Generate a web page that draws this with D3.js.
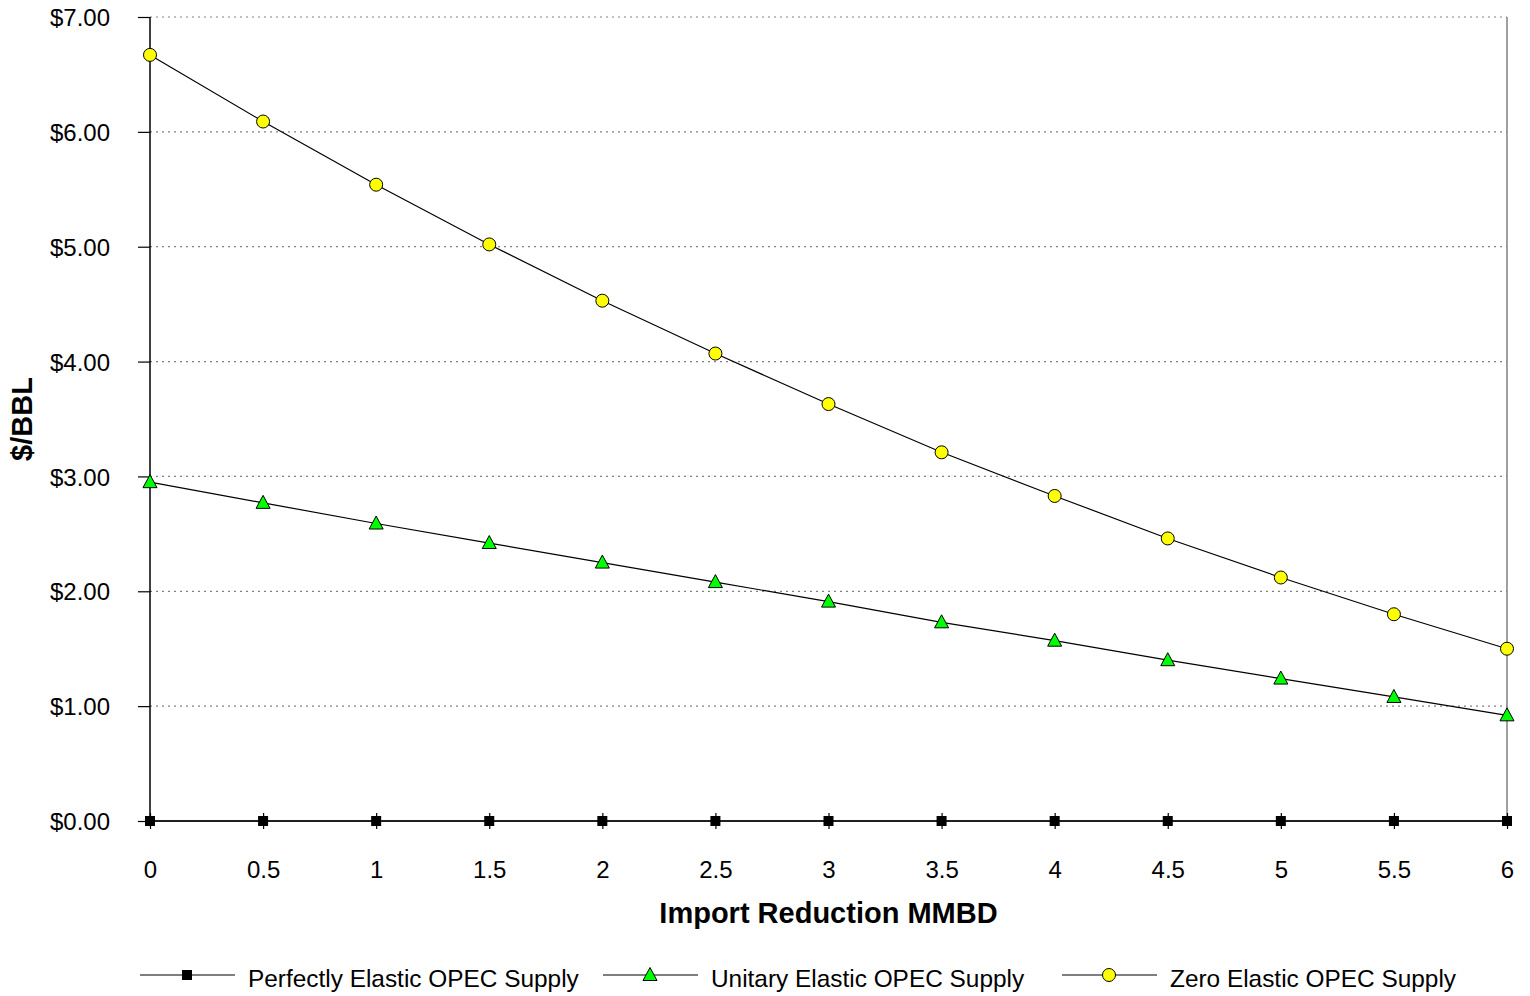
<!DOCTYPE html>
<html><head><meta charset="utf-8">
<script src="https://cdn.jsdelivr.net/npm/d3@7"></script>
<style>body{margin:0;background:#fff}svg{display:block;font-family:"Liberation Sans",Arial,sans-serif}</style>
</head><body>
<svg id="c" width="1530" height="996"></svg>
<script>
const xValues = [0,0.5,1,1.5,2,2.5,3,3.5,4,4.5,5,5.5,6];
const perfectlyElastic = [0,0,0,0,0,0,0,0,0,0,0,0,0];
const unitaryElastic = [2.95,2.77,2.59,2.42,2.25,2.08,1.91,1.73,1.57,1.40,1.24,1.08,0.92];
const zeroElastic = [6.67,6.09,5.54,5.02,4.53,4.07,3.63,3.21,2.83,2.46,2.12,1.80,1.50];
const yTicks = [0,1,2,3,4,5,6,7];
const seriesNames = ["Perfectly Elastic OPEC Supply","Unitary Elastic OPEC Supply","Zero Elastic OPEC Supply"];
const xTitle = "Import Reduction MMBD";
const yTitle = "$/BBL";

const FONT = "Liberation Sans, Arial, sans-serif";
const svg = d3.select("#c");
const L=150,R=1507,T=17,B=821;
const x = d3.scaleLinear().domain([0,6]).range([L,R]);
const y = d3.scaleLinear().domain([0,7]).range([B,T]);

// gridlines
svg.append("g").selectAll("line").data(yTicks.filter(d=>d>0)).join("line")
  .attr("x1",L).attr("x2",R).attr("y1",d=>y(d)).attr("y2",d=>y(d))
  .attr("stroke","#808080").attr("stroke-width",1.2).attr("stroke-dasharray","2,4");
// right border
svg.append("line").attr("x1",R).attr("x2",R).attr("y1",T).attr("y2",B).attr("stroke","#808080").attr("stroke-width",1.5);

// y axis
const ya = svg.append("g").attr("transform",`translate(${L},0)`)
  .call(d3.axisLeft(y).tickValues(yTicks).tickSize(12).tickFormat(d=>"$"+d.toFixed(2)));
ya.attr("font-size",null).attr("font-family",null);
ya.select(".domain").attr("stroke","#000").attr("stroke-width",1.5).attr("d",`M0,${T}V${B}`);
ya.selectAll(".tick line").attr("stroke","#000").attr("stroke-width",1.2);
ya.selectAll("text").attr("font-size",24).attr("fill","#000").attr("font-family",FONT)
  .attr("x",-40).attr("dy","0.36em");

// x axis
const xa = svg.append("g").attr("transform",`translate(0,${B})`)
  .call(d3.axisBottom(x).tickValues(xValues).tickSize(8).tickFormat(d=>String(d)));
xa.attr("font-size",null).attr("font-family",null);
xa.select(".domain").attr("stroke","#000").attr("stroke-width",1.5).attr("d",`M${L},0H${R}`);
xa.selectAll(".tick line").attr("stroke","#000").attr("stroke-width",1.2).attr("y1",-8).attr("y2",8);
xa.selectAll("text").attr("font-size",24).attr("fill","#000").attr("font-family",FONT)
  .attr("y",57).attr("dy",null);

// titles
svg.append("text").attr("x",(L+R)/2).attr("y",923).attr("text-anchor","middle")
  .attr("font-size",29).attr("font-weight","bold").text(xTitle);
svg.append("text").attr("transform","translate(32,419) rotate(-90)").attr("text-anchor","middle")
  .attr("font-size",29).attr("font-weight","bold").text(yTitle);

const line = d3.line().x((d,i)=>x(xValues[i])).y(d=>y(d));
const allSeries = [perfectlyElastic, unitaryElastic, zeroElastic];
allSeries.forEach(s=>{
  svg.append("path").datum(s).attr("d",line).attr("fill","none").attr("stroke","#000").attr("stroke-width",1.2);
});

function marker(g, type, cx, cy){
  if(type===0){
    g.append("rect").attr("x",cx-5).attr("y",cy-5).attr("width",10).attr("height",10).attr("fill","#000");
  } else if(type===1){
    g.append("path").attr("d",`M${cx},${cy-7.5}L${cx+7},${cy+5.5}L${cx-7},${cy+5.5}Z`).attr("fill","#00ff00").attr("stroke","#000").attr("stroke-width",1);
  } else {
    g.append("circle").attr("cx",cx).attr("cy",cy).attr("r",6.5).attr("fill","#ffff00").attr("stroke","#000").attr("stroke-width",1);
  }
}
const mg = svg.append("g");
allSeries.forEach((s,k)=>{
  s.forEach((v,i)=>marker(mg,k,x(xValues[i]),y(v)));
});

// legend
const legX = [140,603,1062];
const lg = svg.append("g");
seriesNames.forEach((n,k)=>{
  const lx = legX[k], ly = 975;
  lg.append("line").attr("x1",lx).attr("x2",lx+95).attr("y1",ly).attr("y2",ly).attr("stroke","#000").attr("stroke-width",1.2);
  marker(lg,k,lx+47,ly);
  lg.append("text").attr("x",lx+108).attr("y",987).attr("font-size",24.4).attr("font-family",FONT).text(n);
});
</script>
</body></html>
